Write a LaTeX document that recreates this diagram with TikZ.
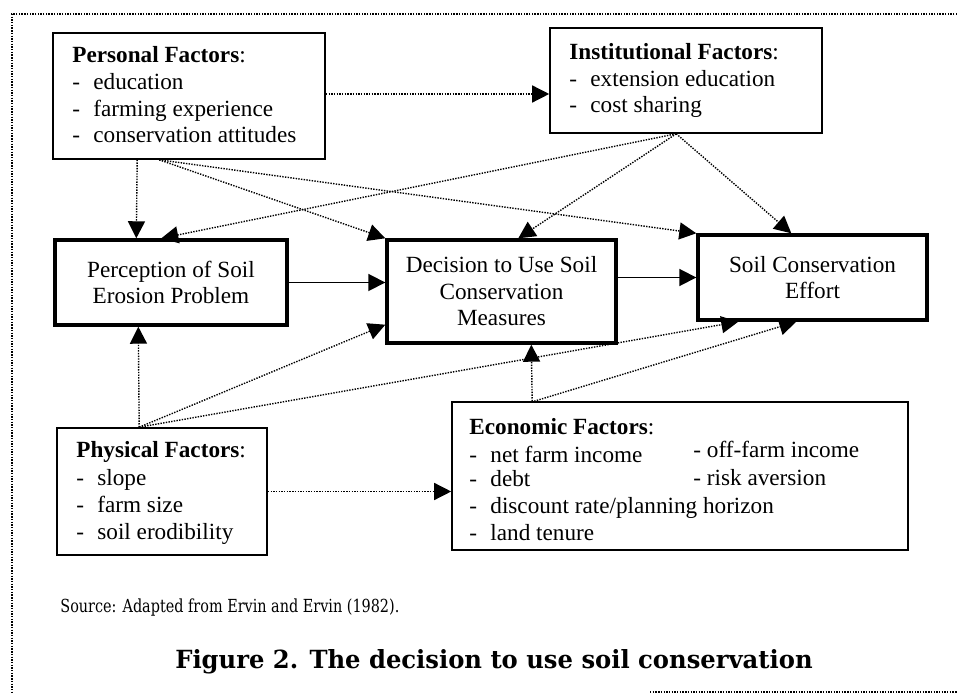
\documentclass[tikz,border=0pt]{standalone}
\usepackage{fontspec}
\setmainfont{Liberation Serif}
\newfontfamily\srcfont[FakeStretch=0.80]{DejaVu Serif}
\newfontfamily\capfont[FakeStretch=0.97]{DejaVu Serif}
\usetikzlibrary{arrows.meta,calc,fit}
\newcommand{\itm}[1]{\makebox[10.5pt][l]{-}#1}
\begin{document}
\begin{tikzpicture}[x=0.5pt,y=-0.5pt,
  thinbox/.style={draw,line width=0.8pt,inner sep=0pt},
  thickbox/.style={draw,line width=1.7pt,inner sep=0pt,align=center},
  dotline/.style={line width=0.7pt,dash pattern=on 0.7pt off 0.65pt},
  tipped/.style={-{Triangle[length=8.5pt,width=8.5pt]}},
  solidline/.style={line width=0.9pt},
  lbl/.style={anchor=base west,inner sep=0pt},
  font=\fontsize{11.6pt}{13.25pt}\selectfont]
\useasboundingbox (0,0) rectangle (957,694);
% page frame (dotted)
\coordinate (f1) at (957,14);
\coordinate (f2) at (12,14);
\coordinate (f3) at (12,694);
\coordinate (f4) at (650,692);
\coordinate (f5) at (957,692);
\draw[dotline] (f1) -- (f2) -- (f3);
\draw[dotline] (f4) -- (f5);

% boxes
\node[thinbox,fit={(53,33) (325,159)}] (pers) {};
\node[thinbox,fit={(550,28) (822,133)}] (inst) {};
\node[thinbox,fit={(57,428) (267,555)}] (phys) {};
\node[thinbox,fit={(452,402) (908,550)}] (econ) {};
\node[thickbox,fit={(55,240) (287,325)}] (perc) {};
\node[thickbox,fit={(387,240) (616,343)}] (dec) {};
\node[thickbox,fit={(698,235) (927,320)}] (eff) {};

% centred texts
\node[align=center] (perct) at (perc.center) {Perception of Soil\\Erosion Problem};
\node[align=center] (dect) at (dec.center) {Decision to Use Soil\\Conservation\\Measures};
\node[align=center] (efft) at (eff.center) {Soil Conservation\\Effort};

% list texts
\node[lbl] (p0) at (72,63) {\textbf{Personal Factors}:};
\node[lbl] (p1) at (72,90) {\itm{education}};
\node[lbl] (p2) at (72,117) {\itm{farming experience}};
\node[lbl] (p3) at (72,143) {\itm{conservation attitudes}};

\node[lbl] (i0) at (569,60) {\textbf{Institutional Factors}:};
\node[lbl] (i1) at (569,87) {\itm{extension education}};
\node[lbl] (i2) at (569,113) {\itm{cost sharing}};

\node[lbl] (h0) at (76,458) {\textbf{Physical Factors}:};
\node[lbl] (h1) at (76,485) {\itm{slope}};
\node[lbl] (h2) at (76,512) {\itm{farm size}};
\node[lbl] (h3) at (76,539) {\itm{soil erodibility}};

\node[lbl] (e0) at (469,435) {\textbf{Economic Factors}:};
\node[lbl] (e1) at (469,462) {\itm{net farm income}};
\node[lbl] (e2) at (469,487) {\itm{debt}};
\node[lbl] (e3) at (469,513) {\itm{discount rate/planning horizon}};
\node[lbl] (e4) at (469,540) {\itm{land tenure}};
\node[lbl] (e5) at (693,458) {- off-farm income};
\node[lbl] (e6) at (693,485) {- risk aversion};

% source and caption
\node[lbl,font=\srcfont\fontsize{9pt}{11pt}\selectfont] (src) at (60,612) {Source: Adapted from Ervin and Ervin (1982).};
\node[anchor=base,inner sep=0pt,font=\capfont\bfseries\fontsize{12.5pt}{14pt}\selectfont] (cap) at (494,668) {Figure 2. The decision to use soil conservation};

% connectors
\draw[dotline,tipped] ($(pers.east)+(0,-2)$) -- ($(inst.west)+(0,13.5)$);
\draw[dotline,tipped] ($(pers.south west)+(85,0)$) -- ($(perc.north west)+(83,0)$);
\draw[dotline,tipped] ($(pers.south west)+(107,0)$) -- (dec.north west);
\draw[dotline,tipped] ($(pers.south west)+(107,0)$) -- (eff.north west);
\draw[dotline,tipped] ($(inst.south west)+(127,0)$) -- ($(perc.north west)+(108,0)$);
\draw[dotline,tipped] ($(inst.south west)+(127,0)$) -- ($(dec.north west)+(133,0)$);
\draw[dotline,tipped] ($(inst.south west)+(127,0)$) -- ($(eff.north west)+(95,0)$);
\draw[solidline,tipped] (perc.east) -- (perc.east -| dec.west);
\draw[solidline,tipped] (eff.west -| dec.east) -- (eff.west);
\draw[dotline,tipped] ($(phys.north west)+(83,0)$) -- ($(perc.south west)+(85,0)$);
\draw[dotline,tipped] ($(phys.north west)+(83,0)$) -- ($(dec.south west)+(0,-20)$);
\draw[dotline,tipped] ($(phys.north west)+(83,0)$) -- ($(eff.south west)+(42,0)$);
\draw[dotline,tipped] ($(econ.north west)+(81,0)$) -- ($(dec.south west)+(146,0)$);
\draw[dotline,tipped] ($(econ.north west)+(83,0)$) -- ($(eff.south west)+(100,0)$);
\draw[dotline,tipped] (phys.east) -- (phys.east -| econ.west);
\end{tikzpicture}
\end{document}
